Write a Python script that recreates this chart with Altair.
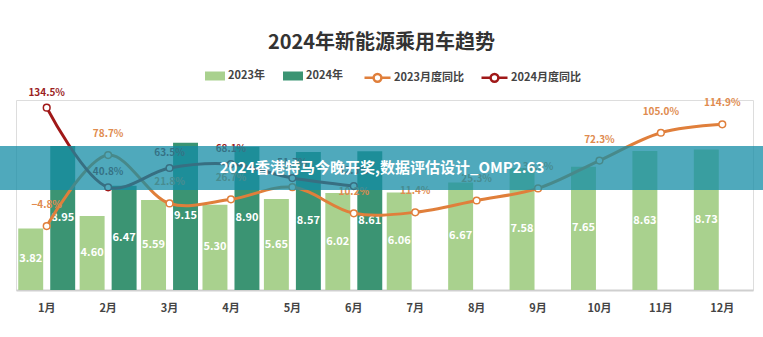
import altair as alt
import pandas as pd

# ---------------- data ----------------
months = ["1月", "2月", "3月", "4月", "5月", "6月", "7月", "8月", "9月", "10月", "11月", "12月"]
sales_2023 = [3.82, 4.60, 5.59, 5.30, 5.65, 6.02, 6.06, 6.67, 7.58, 7.65, 8.63, 8.73]
sales_2024 = [8.95, 6.47, 9.15, 8.90, 8.57, 8.61]
yoy_2023 = [-4.8, 78.7, 21.8, 26.7, 41.0, 10.2, 11.4, 25.3, 39.5, 72.3, 105.0, 114.9]
yoy_2024 = [134.5, 40.8, 63.5, 68.1, 51.7, 42.3]
bar_series = ["2023年", "2024年"]
line_series = ["2023月度同比", "2024月度同比"]
title_text = "2024年新能源乘用车趋势"
banner_text = "2024香港特马今晚开奖,数据评估设计_OMP2.63"

# ---------------- styles ----------------
FONT = "Noto Sans CJK SC"
LIGHT = "#a9d18e"
DARK = "#3b9473"
ORANGE = "#e07f3b"
RED = "#a01818"
ORANGE_TXT = "#e08b4f"
RED_TXT = "#9b1f1f"

RECT_PATH = "M-1,-0.45H1V0.45H-1Z"
LINE_PATH = ("M-1,0L-0.3,0M0.3,0L1,0"
             "M0.3,0A0.3,0.3,0,1,1,-0.3,0A0.3,0.3,0,1,1,0.3,0Z")

bar_df = pd.DataFrame(
    [{"month": m, "series": bar_series[0], "value": v} for m, v in zip(months, sales_2023)]
    + [{"month": m, "series": bar_series[1], "value": v} for m, v in zip(months, sales_2024)]
)
line_df = pd.DataFrame(
    [{"month": m, "series": line_series[0], "yoy": v} for m, v in zip(months, yoy_2023)]
    + [{"month": m, "series": line_series[1], "yoy": v} for m, v in zip(months, yoy_2024)]
)
banner_df = pd.DataFrame({"t": [banner_text]})

x_enc = alt.X(
    "month:N", sort=months,
    scale=alt.Scale(domain=months, paddingInner=0, paddingOuter=0),
    axis=alt.Axis(title=None, labelAngle=0, ticks=False, domainColor="#cfcfcf", domainWidth=2,
                  labelFont=FONT, labelFontSize=11, labelFontWeight="bold", labelColor="#444",
                  labelPadding=12, grid=False),
)
xoff_enc = alt.XOffset("series:N", scale=alt.Scale(domain=bar_series, paddingInner=0.22, paddingOuter=0.07))
bar_y_scale = alt.Scale(domain=[0, 11.8])
line_y = alt.Y("yoy:Q", scale=alt.Scale(domain=[-80, 143.5]), axis=None)

bars = alt.Chart(bar_df).mark_bar().encode(
    x=x_enc,
    xOffset=xoff_enc,
    y=alt.Y("value:Q", scale=bar_y_scale, axis=None),
    color=alt.Color(
        "series:N",
        scale=alt.Scale(domain=bar_series, range=[LIGHT, DARK]),
        legend=alt.Legend(orient="none", legendX=189, legendY=-34, direction="horizontal", title=None,
                          symbolType=RECT_PATH, symbolSize=400, symbolStrokeWidth=0,
                          labelFont=FONT, labelFontSize=11, labelFontWeight="bold", labelColor="#444",
                          labelOffset=3, columnPadding=18, padding=0),
    ),
)

bar_text = alt.Chart(bar_df).transform_calculate(mid="datum.value / 2").mark_text(
    color="white", font=FONT, fontSize=11, fontWeight="bold"
).encode(
    x=x_enc,
    xOffset=xoff_enc,
    y=alt.Y("mid:Q", scale=bar_y_scale, axis=None),
    text=alt.Text("value:Q", format=".2f"),
)

lines = alt.Chart(line_df).mark_line(interpolate="catmull-rom", strokeWidth=3).encode(
    x=x_enc,
    y=line_y,
    stroke=alt.Stroke(
        "series:N",
        scale=alt.Scale(domain=line_series, range=[ORANGE, RED]),
        legend=alt.Legend(orient="none", legendX=347, legendY=-37, direction="horizontal", title=None,
                          symbolType=LINE_PATH, symbolSize=676, symbolStrokeWidth=2.5,
                          symbolFillColor="white",
                          labelFont=FONT, labelFontSize=11, labelFontWeight="bold", labelColor="#444",
                          labelOffset=2, columnPadding=12, padding=0),
    ),
)


def points(series, color):
    return alt.Chart(line_df).transform_filter(alt.datum.series == series).mark_point(
        filled=True, fill="white", stroke=color, strokeWidth=1.5, size=45, opacity=1
    ).encode(x=x_enc, y=line_y)


def labels(series, color, dy):
    return alt.Chart(line_df).transform_filter(alt.datum.series == series).transform_calculate(
        lab="format(datum.yoy, '.1f') + '%'"
    ).mark_text(dy=dy, color=color, font=FONT, fontSize=10, fontWeight="bold").encode(
        x=x_enc, y=line_y, text="lab:N"
    )


banner = alt.Chart(banner_df).mark_rect(fill="#148ca5", opacity=0.75).encode(
    x=alt.value(-16), x2=alt.value(747), y=alt.value(46), y2=alt.value(90)
)
banner_label = alt.Chart(banner_df).mark_text(
    color="white", font=FONT, fontSize=15, fontWeight="bold"
).encode(x=alt.value(366), y=alt.value(68), text="t:N")

chart = alt.layer(
    bars, bar_text, lines,
    points(line_series[0], ORANGE), points(line_series[1], RED),
    labels(line_series[0], ORANGE_TXT, -21), labels(line_series[1], RED_TXT, -15),
    banner, banner_label,
).resolve_scale(y="independent").properties(
    width=737, height=190,
    autosize=alt.AutoSizeParams(type="none"),
    padding={"left": 16, "top": 100, "right": 10, "bottom": 47},
    title=alt.TitleParams(title_text, font=FONT, fontSize=20, fontWeight="bold", color="#333",
                          anchor="middle", offset=10, dx=-3),
).configure_view(stroke=None).configure(background="white")

chart.save("out.html", embed_options={"renderer": "svg", "actions": False})
